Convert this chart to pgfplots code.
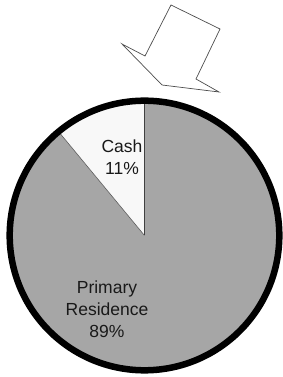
\documentclass[border=0pt]{standalone}
\usepackage{pgfplots}
\pgfplotsset{compat=1.18}
\usepackage{fontspec}
\setmainfont{Liberation Sans}
\definecolor{slicegray}{RGB}{166,166,166}
\definecolor{cashwhite}{RGB}{248,248,248}
\begin{document}
\begin{tikzpicture}
\def\cashval{11}
\def\resval{89}
\pgfmathsetmacro{\angA}{90+3.6*\cashval}
\pgfmathsetmacro{\angB}{\angA+3.6*\resval}
\begin{axis}[x=1pt,y=1pt,xmin=0,xmax=282,ymin=0,ymax=377,hide axis,clip=false,scale only axis]
\path (axis cs:0,0) rectangle (axis cs:282,377);
\fill[slicegray,overlay] (axis cs:144.5,141.5) -- ++(\angA:134.8) arc[start angle=\angA,end angle=\angB,radius=134.8pt] -- cycle;
\fill[cashwhite,overlay] (axis cs:144.5,141.5) -- ++(90:134.8) arc[start angle=90,end angle=\angA,radius=134.8pt] -- cycle;
\draw[gray!70!black,line width=0.6pt,overlay] (axis cs:144.5,141.5) -- ++(\angA:134.8);
\draw[black!75,line width=1pt,overlay] (axis cs:144.5,141.5) -- ++(90:134.8);
\draw[black,line width=6.5pt,overlay] (axis cs:144.5,141.5) circle[radius=134.8pt];
\node[align=center,font=\fontsize{17.5}{21.5}\selectfont,text=black!90] at (axis cs:122,220) {Cash\\11\%};
\node[align=center,font=\fontsize{17.5}{22}\selectfont,text=black!90] at (axis cs:107,67.5) {Primary\\Residence\\89\%};
\addplot[draw=black!70,fill=white,line width=0.7pt] coordinates {(171,372) (220,348) (196,298) (219,285) (162,292) (122,333) (145,321)} -- cycle;
\end{axis}
\end{tikzpicture}
\end{document}
